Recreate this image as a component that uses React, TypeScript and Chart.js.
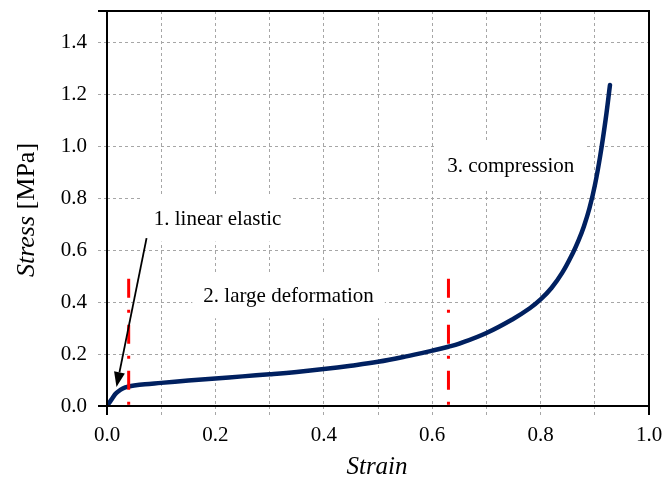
import React, { useEffect, useRef } from 'react';
import { Chart, registerables } from 'chart.js';

Chart.register(...registerables);

// Stress-strain curve
const strain = [0, 0.005, 0.01, 0.015, 0.02, 0.03, 0.04, 0.05, 0.07, 0.1, 0.15, 0.2, 0.25, 0.3, 0.35, 0.4, 0.45, 0.5, 0.55, 0.6, 0.63, 0.65, 0.7, 0.75, 0.78, 0.8, 0.82, 0.84, 0.86, 0.87, 0.88, 0.89, 0.9, 0.91, 0.92, 0.928];
const stress = [0, 0.015, 0.03, 0.045, 0.055, 0.068, 0.075, 0.079, 0.084, 0.089, 0.098, 0.106, 0.114, 0.122, 0.131, 0.142, 0.155, 0.17, 0.19, 0.213, 0.228, 0.24, 0.281, 0.336, 0.376, 0.41, 0.454, 0.513, 0.591, 0.637, 0.692, 0.76, 0.848, 0.963, 1.103, 1.235];

// Phase boundaries (red dash-dot lines)
const boundaryStrain = [0.04, 0.63];
const boundaryStress = [0.49, 0];

// Annotation labels
const labelTexts = ['1. linear elastic', '2. large deformation', '3. compression'];
const labelStrain = [0.204, 0.335, 0.745];
const labelStress = [0.721, 0.426, 0.924];

// Arrow (strain, stress)
const arrowFrom = [0.073, 0.646];
const arrowTo = [0.0175, 0.073];

// Axes
const xMin = 0;
const xMax = 1.0;
const xStep = 0.1;
const yMin = 0;
const yMax = 1.52;
const yStep = 0.2;
const xTitle = 'Strain';
const yTitleItalic = 'Stress';
const yTitleUnit = ' [MPa]';

const SERIF = '"Liberation Serif", "Times New Roman", serif';

const overlayPlugin = {
  id: 'overlay',
  beforeDatasetsDraw(chart: any) {
    const { ctx, scales } = chart;
    const x = scales.x;
    const y = scales.y;
    ctx.save();
    ctx.font = `21px ${SERIF}`;
    ctx.textAlign = 'center';
    ctx.textBaseline = 'middle';
    labelTexts.forEach((t, i) => {
      const cx = x.getPixelForValue(labelStrain[i]);
      const cy = y.getPixelForValue(labelStress[i]);
      const w = ctx.measureText(t).width;
      ctx.fillStyle = '#ffffff';
      ctx.fillRect(cx - w / 2 - 11, cy - 23, w + 22, 46);
      ctx.fillStyle = '#000000';
      ctx.fillText(t, cx, cy + 1);
    });
    ctx.restore();
  },
  afterDatasetsDraw(chart: any) {
    const { ctx, chartArea, scales } = chart;
    const x = scales.x;
    const y = scales.y;
    const { left, right, top, bottom } = chartArea;
    ctx.save();
    // frame
    ctx.strokeStyle = '#000000';
    ctx.lineWidth = 2;
    ctx.beginPath();
    ctx.moveTo(left - 9, top);
    ctx.lineTo(right, top);
    ctx.lineTo(right, bottom + 9);
    ctx.moveTo(left, top);
    ctx.lineTo(left, bottom + 9);
    ctx.moveTo(left - 9, bottom);
    ctx.lineTo(right, bottom);
    ctx.stroke();

    // arrow
    const x1 = x.getPixelForValue(arrowFrom[0]);
    const y1 = y.getPixelForValue(arrowFrom[1]);
    const x2 = x.getPixelForValue(arrowTo[0]);
    const y2 = y.getPixelForValue(arrowTo[1]);
    const ang = Math.atan2(y2 - y1, x2 - x1);
    const headLen = 15;
    const headHalf = 5.5;
    const bx = x2 - headLen * Math.cos(ang);
    const by = y2 - headLen * Math.sin(ang);
    ctx.lineWidth = 1.8;
    ctx.beginPath();
    ctx.moveTo(x1, y1);
    ctx.lineTo(bx, by);
    ctx.stroke();
    ctx.fillStyle = '#000000';
    ctx.beginPath();
    ctx.moveTo(x2, y2);
    ctx.lineTo(bx + headHalf * Math.sin(ang), by - headHalf * Math.cos(ang));
    ctx.lineTo(bx - headHalf * Math.sin(ang), by + headHalf * Math.cos(ang));
    ctx.closePath();
    ctx.fill();
    ctx.restore();
  },
  afterDraw(chart: any) {
    const { ctx, chartArea } = chart;
    ctx.save();
    ctx.fillStyle = '#000000';
    ctx.textBaseline = 'middle';
    // x title
    ctx.font = `italic 25px ${SERIF}`;
    ctx.textAlign = 'center';
    ctx.fillText(xTitle, (chartArea.left + chartArea.right) / 2 - 1, 467);
    // y title
    ctx.translate(27, 210);
    ctx.rotate(-Math.PI / 2);
    ctx.font = `italic 26px ${SERIF}`;
    const w1 = ctx.measureText(yTitleItalic).width;
    ctx.font = `26px ${SERIF}`;
    const w2 = ctx.measureText(yTitleUnit).width;
    const start = -(w1 + w2) / 2;
    ctx.textAlign = 'left';
    ctx.font = `italic 26px ${SERIF}`;
    ctx.fillText(yTitleItalic, start, 0);
    ctx.font = `26px ${SERIF}`;
    ctx.fillText(yTitleUnit, start + w1, 0);
    ctx.restore();
  },
};

export default function App() {
  const ref = useRef<HTMLCanvasElement | null>(null);

  useEffect(() => {
    if (!ref.current) return;
    const gridColor = '#a6a6a6';
    const chart = new Chart(ref.current, {
      type: 'line',
      data: {
        datasets: [
          {
            label: 'boundary 1',
            data: boundaryStress.map((v) => ({ x: boundaryStrain[0], y: v })),
            borderColor: '#ff0000',
            borderWidth: 3,
            borderDash: [19, 12, 3, 12],
            pointRadius: 0,
            fill: false,
          },
          {
            label: 'boundary 2',
            data: boundaryStress.map((v) => ({ x: boundaryStrain[1], y: v })),
            borderColor: '#ff0000',
            borderWidth: 3,
            borderDash: [19, 12, 3, 12],
            pointRadius: 0,
            fill: false,
          },
          {
            label: 'Stress',
            data: strain.map((s, i) => ({ x: s, y: stress[i] })),
            borderColor: '#002060',
            borderWidth: 4.5,
            pointRadius: 0,
            tension: 0.4,
            fill: false,
            borderCapStyle: 'round',
          },
        ],
      },
      options: {
        responsive: false,
        animation: false,
        layout: { padding: { top: 11, right: 17, left: 0, bottom: 0 } },
        plugins: { legend: { display: false }, tooltip: { enabled: false } },
        scales: {
          x: {
            type: 'linear',
            min: xMin,
            max: xMax,
            afterFit: (s: any) => {
              s.height = 77;
              s.paddingLeft = 0;
              s.paddingRight = 0;
            },
            ticks: {
              stepSize: xStep,
              autoSkip: false,
              maxRotation: 0,
              padding: 8,
              color: '#000000',
              font: { family: SERIF, size: 21 },
              callback: (v: any) => (Math.round(Number(v) * 10) % 2 === 0 ? Number(v).toFixed(1) : ''),
            },
            grid: {
              color: gridColor,
              lineWidth: 1,
              tickLength: 9,
              tickColor: gridColor,
              tickBorderDash: [3, 3],
            },
            border: { display: false, dash: [3, 3] },
          },
          y: {
            type: 'linear',
            min: yMin,
            max: yMax,
            afterFit: (s: any) => {
              s.width = 107;
              s.paddingTop = 0;
              s.paddingBottom = 0;
            },
            ticks: {
              stepSize: yStep,
              includeBounds: false,
              padding: 11,
              color: '#000000',
              font: { family: SERIF, size: 21 },
              callback: (v: any) => Number(v).toFixed(1),
            },
            grid: {
              color: gridColor,
              lineWidth: 1,
              tickLength: 9,
              tickColor: gridColor,
              tickBorderDash: [3, 3],
            },
            border: { display: false, dash: [3, 3] },
          },
        },
      } as any,
      plugins: [overlayPlugin],
    });
    return () => chart.destroy();
  }, []);

  return (
    <div style={{ position: 'fixed', left: 0, top: 0, width: 666, height: 483, background: '#ffffff' }}>
      <canvas ref={ref} width={666} height={483} style={{ display: 'block', width: 666, height: 483 }} />
    </div>
  );
}
